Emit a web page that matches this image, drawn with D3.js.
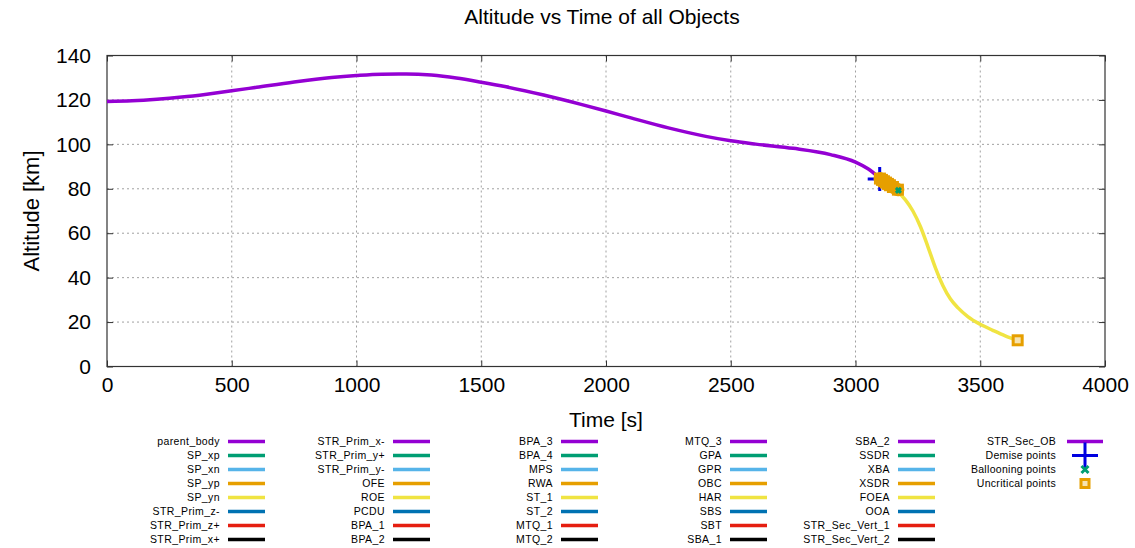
<!DOCTYPE html>
<html>
<head>
<meta charset="utf-8">
<script src="https://cdn.jsdelivr.net/npm/d3@7"></script>
<style>
  body { margin: 0; background: #fff; }
  svg { display: block; font-family: "Liberation Sans", Arial, sans-serif; }
</style>
</head>
<body>
<div id="chart"></div>
<script>
// Parent body trajectory (purple)
const parentTime = [0, 100, 200, 300, 400, 500, 600, 750, 900, 1000, 1100, 1200, 1300, 1400, 1500, 1600, 1750, 1900, 2000, 2100, 2250, 2400, 2500, 2600, 2750, 2900, 3000, 3050, 3090];
const parentAlt  = [119.3, 119.6, 120.3, 121.3, 122.6, 124.1, 125.7, 128.1, 130.1, 131.0, 131.6, 131.7, 131.2, 129.9, 128.0, 125.9, 122.2, 118.0, 115.0, 111.9, 107.4, 103.6, 101.6, 100.1, 98.2, 95.4, 92.0, 89.0, 85.5];

// Fragment that survives further down (yellow)
const fragTime = [3140, 3170, 3200, 3230, 3260, 3290, 3320, 3350, 3380, 3410, 3450, 3500, 3550, 3600, 3650];
const fragAlt  = [80.5, 78.5, 75.0, 70.0, 63.0, 54.0, 44.5, 36.5, 30.5, 26.5, 22.5, 19.0, 16.3, 13.8, 11.8];

// Event markers
const demiseTime = [3097];
const demiseAlt  = [84.4];
const balloonTime = [3172];
const balloonAlt  = [79.3];
const uncritTime = [3098, 3106, 3114, 3122, 3130, 3138, 3150, 3170, 3650];
const uncritAlt  = [84.6, 84.0, 83.4, 82.8, 82.2, 81.6, 80.8, 79.6, 11.8];

// Axis ticks
const xTicks = [0, 500, 1000, 1500, 2000, 2500, 3000, 3500, 4000];
const yTicks = [0, 20, 40, 60, 80, 100, 120, 140];

// Legend
const legendCols = [
  ["parent_body", "SP_xp", "SP_xn", "SP_yp", "SP_yn", "STR_Prim_z-", "STR_Prim_z+", "STR_Prim_x+"],
  ["STR_Prim_x-", "STR_Prim_y+", "STR_Prim_y-", "OFE", "ROE", "PCDU", "BPA_1", "BPA_2"],
  ["BPA_3", "BPA_4", "MPS", "RWA", "ST_1", "ST_2", "MTQ_1", "MTQ_2"],
  ["MTQ_3", "GPA", "GPR", "OBC", "HAR", "SBS", "SBT", "SBA_1"],
  ["SBA_2", "SSDR", "XBA", "XSDR", "FOEA", "OOA", "STR_Sec_Vert_1", "STR_Sec_Vert_2"]
];
const palette = ["#9400d3", "#009e73", "#56b4e9", "#e69f00", "#f0e442", "#0072b2", "#e51e10", "#000000"];
const markerLabels = ["STR_Sec_OB", "Demise points", "Ballooning points", "Uncritical points"];

const W = 1135, H = 548;
const margin = {top: 55.5, right: 30, bottom: 181.5, left: 107};
const width = W - margin.left - margin.right;
const height = H - margin.top - margin.bottom;

const svg = d3.select('#chart').append('svg')
  .attr('width', W).attr('height', H);

const g = svg.append('g')
  .attr('transform', `translate(${margin.left},${margin.top})`);

const x = d3.scaleLinear().domain([0, 4000]).range([0, width]);
const y = d3.scaleLinear().domain([0, 140]).range([height, 0]);

// Grid
g.selectAll('.gx').data(xTicks.slice(1, -1)).enter().append('line')
  .attr('x1', d => x(d)).attr('x2', d => x(d)).attr('y1', 0).attr('y2', height)
  .attr('stroke', '#a0a0a0').attr('stroke-width', 1).attr('stroke-dasharray', '2,3');
g.selectAll('.gy').data(yTicks.slice(1, -1)).enter().append('line')
  .attr('y1', d => y(d)).attr('y2', d => y(d)).attr('x1', 0).attr('x2', width)
  .attr('stroke', '#a0a0a0').attr('stroke-width', 1).attr('stroke-dasharray', '2,3');

// Axes (gnuplot style: inner ticks on all sides)
const tickLen = 6;
function styleAxis(sel) {
  sel.select('.domain').remove();
  sel.selectAll('.tick line').attr('stroke', '#333').attr('stroke-width', 1);
  sel.selectAll('.tick text').attr('fill', '#000').style('font-size', '21px')
    .style('font-family', '"Liberation Sans", Arial, sans-serif');
}
g.append('g').attr('transform', `translate(0,${height})`)
  .call(d3.axisBottom(x).tickValues(xTicks).tickSize(-tickLen).tickPadding(11).tickFormat(d3.format('d')))
  .call(styleAxis);
g.append('g')
  .call(d3.axisLeft(y).tickValues(yTicks).tickSize(-tickLen).tickPadding(16).tickFormat(d3.format('d')))
  .call(styleAxis);
g.append('g')
  .call(d3.axisTop(x).tickValues(xTicks).tickSize(-tickLen).tickFormat(''))
  .call(styleAxis);
g.append('g').attr('transform', `translate(${width},0)`)
  .call(d3.axisRight(y).tickValues(yTicks).tickSize(-tickLen).tickFormat(''))
  .call(styleAxis);

g.append('rect').attr('width', width).attr('height', height)
  .attr('fill', 'none').attr('stroke', '#333').attr('stroke-width', 1.2);

// Lines
const line = d3.line().x(d => x(d[0])).y(d => y(d[1])).curve(d3.curveMonotoneX);
g.append('path').datum(fragTime.map((t, i) => [t, fragAlt[i]]))
  .attr('d', line).attr('fill', 'none').attr('stroke', palette[4]).attr('stroke-width', 3.5);
g.append('path').datum(parentTime.map((t, i) => [t, parentAlt[i]]))
  .attr('d', line).attr('fill', 'none').attr('stroke', palette[0]).attr('stroke-width', 3.5);

// Markers
function plus(sel, cx, cy, s) {
  sel.append('path').attr('d', `M${cx - s},${cy}H${cx + s}M${cx},${cy - s}V${cy + s}`)
    .attr('stroke', '#0000e0').attr('stroke-width', 3).attr('fill', 'none');
}
function cross(sel, cx, cy, s) {
  sel.append('path').attr('d', `M${cx - s},${cy - s}L${cx + s},${cy + s}M${cx - s},${cy + s}L${cx + s},${cy - s}`)
    .attr('stroke', palette[1]).attr('stroke-width', 3).attr('fill', 'none');
}
function square(sel, cx, cy, s) {
  sel.append('rect').attr('x', cx - s).attr('y', cy - s).attr('width', 2 * s).attr('height', 2 * s)
    .attr('fill', '#f6e3b0').attr('stroke', palette[3]).attr('stroke-width', 3);
}

demiseTime.forEach((t, i) => plus(g, x(t), y(demiseAlt[i]), 12));
uncritTime.forEach((t, i) => square(g, x(t), y(uncritAlt[i]), 4.5));
g.append('path').datum(uncritTime.slice(0, -1).map((t, i) => [t, uncritAlt[i]]))
  .attr('d', d3.line().x(d => x(d[0])).y(d => y(d[1])))
  .attr('fill', 'none').attr('stroke', palette[3]).attr('stroke-width', 13).attr('stroke-linecap', 'round');
balloonTime.forEach((t, i) => cross(g, x(t), y(balloonAlt[i]), 2.5));

// Labels
svg.append('text').attr('x', 602).attr('y', 24).attr('text-anchor', 'middle')
  .style('font-size', '21px').text('Altitude vs Time of all Objects');
svg.append('text').attr('x', margin.left + width / 2).attr('y', 427).attr('text-anchor', 'middle')
  .style('font-size', '21px').text('Time [s]');
svg.append('text').attr('transform', `translate(39,${margin.top + height / 2}) rotate(-90)`)
  .attr('text-anchor', 'middle').style('font-size', '22px').text('Altitude [km]');

// Legend
const legTextX = [220, 385, 553, 722, 890];
const rowY0 = 441.5, rowStep = 14.0;
const leg = svg.append('g').style('font-size', '10.5px');
legendCols.forEach((col, c) => {
  col.forEach((name, r) => {
    const yy = rowY0 + r * rowStep;
    leg.append('text').attr('x', legTextX[c]).attr('y', yy + 3.8).attr('text-anchor', 'end')
      .style('letter-spacing', '0.4px').text(name);
    leg.append('line').attr('x1', legTextX[c] + 8).attr('x2', legTextX[c] + 45)
      .attr('y1', yy).attr('y2', yy).attr('stroke', palette[r]).attr('stroke-width', 3.5);
  });
});
const mX = 1056;
markerLabels.forEach((name, r) => {
  const yy = rowY0 + r * rowStep;
  leg.append('text').attr('x', mX).attr('y', yy + 3.8).attr('text-anchor', 'end')
    .style('letter-spacing', '0.3px').text(name);
});
leg.append('line').attr('x1', mX + 11).attr('x2', mX + 47).attr('y1', rowY0).attr('y2', rowY0)
  .attr('stroke', palette[0]).attr('stroke-width', 3.5);
plus(leg, mX + 29, rowY0 + rowStep, 13);
cross(leg, mX + 29, rowY0 + 2 * rowStep, 3.5);
square(leg, mX + 29, rowY0 + 3 * rowStep, 4);
</script>
</body>
</html>
